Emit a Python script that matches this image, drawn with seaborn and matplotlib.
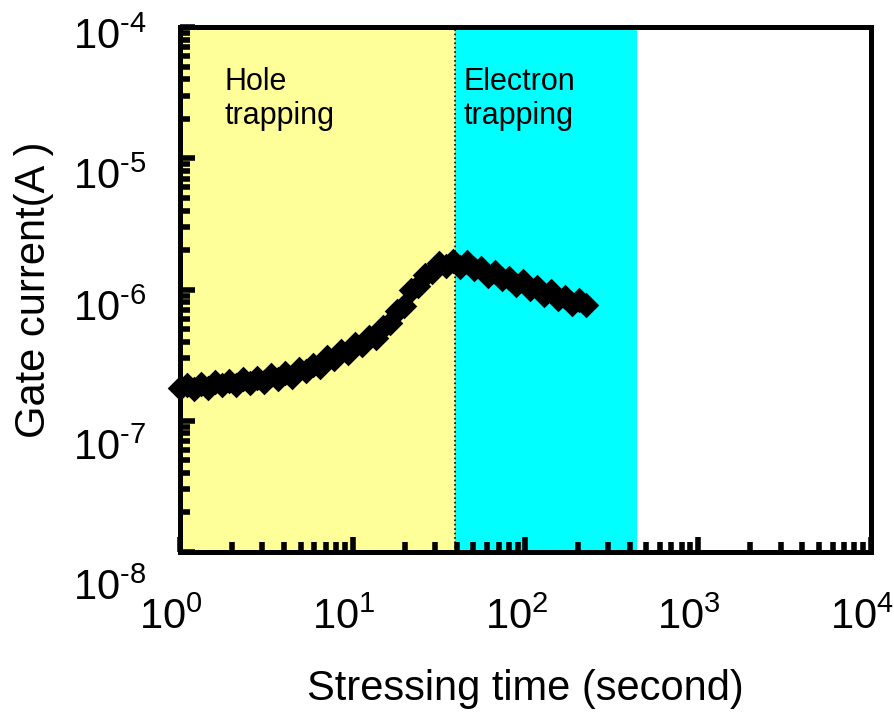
import matplotlib
matplotlib.use("Agg")
import matplotlib.pyplot as plt
from matplotlib.transforms import ScaledTranslation
from matplotlib.ticker import FuncFormatter
import seaborn as sns
import pandas as pd
import numpy as np

# gate current vs stressing time (log axes)
time_s = [1.00, 1.098, 1.205, 1.323, 1.453, 1.595, 1.751, 1.922, 2.110, 2.317,
          2.544, 2.792, 3.065, 3.365, 3.694, 4.055, 4.452, 4.884, 5.362, 5.886,
          6.462, 7.096, 7.790, 8.552, 9.389, 10.31, 11.31, 12.42, 13.63, 14.97,
          16.43, 18.04, 19.80, 21.74, 23.86, 26.20, 28.75, 31.56, 34.65, 38.04,
          41.76, 45.84, 50.33, 55.25, 60.65, 66.58, 73.09, 80.24, 88.09, 96.71,
          106.2, 116.5, 127.9, 140.5, 154.2, 169.3, 185.8, 204.0, 224.0]
gate_current = [1.78e-7, 1.89e-7, 1.76e-7, 1.91e-7, 1.77e-7, 1.99e-7, 1.88e-7, 2.01e-7, 1.86e-7, 2.09e-7,
                1.94e-7, 2.11e-7, 1.97e-7, 2.24e-7, 2.10e-7, 2.31e-7, 2.17e-7, 2.50e-7, 2.39e-7, 2.68e-7,
                2.57e-7, 3.04e-7, 2.97e-7, 3.40e-7, 3.30e-7, 3.88e-7, 3.78e-7, 4.35e-7, 4.25e-7, 5.22e-7,
                5.54e-7, 6.86e-7, 7.51e-7, 9.95e-7, 1.056e-6, 1.298e-6, 1.357e-6, 1.592e-6, 1.513e-6, 1.643e-6,
                1.491e-6, 1.631e-6, 1.437e-6, 1.455e-6, 1.276e-6, 1.361e-6, 1.198e-6, 1.236e-6, 1.088e-6, 1.157e-6,
                1.014e-6, 1.039e-6, 9.11e-7, 9.69e-7, 8.55e-7, 8.84e-7, 7.82e-7, 8.38e-7, 7.62e-7]

# shaded regimes
hole_region = (1, 39)
electron_region = (39, 442)
region_labels = ["Hole\ntrapping", "Electron\ntrapping"]

x_ticks = [1, 10, 100, 1e3, 1e4]
y_ticks = [1e-8, 1e-7, 1e-6, 1e-5, 1e-4]

df = pd.DataFrame({"time": time_s, "current": gate_current})

sns.set_style("white")
plt.rcParams["font.family"] = ["Liberation Sans", "DejaVu Sans"]
plt.rcParams["mathtext.fontset"] = "custom"
plt.rcParams["mathtext.rm"] = "Liberation Sans"
plt.rcParams["mathtext.it"] = "Liberation Sans:italic"
plt.rcParams["text.color"] = "black"
plt.rcParams["axes.labelcolor"] = "black"
plt.rcParams["xtick.color"] = "black"
plt.rcParams["ytick.color"] = "black"

fig = plt.figure(figsize=(8.94, 7.15), dpi=100)
ax = fig.add_axes([0.2013, 0.228, 0.773, 0.734])

ax.axvspan(*hole_region, color="#ffff99", zorder=0, lw=0)
ax.axvspan(*electron_region, color="#00ffff", zorder=0, lw=0)
ax.axvline(hole_region[1], color="black", ls=":", lw=1.2, zorder=1)

sns.scatterplot(data=df, x="time", y="current", marker="D", s=170,
                color="black", edgecolor="black", linewidth=0, ax=ax, zorder=3,
                clip_on=False)

ax.set_xscale("log")
ax.set_yscale("log")
ax.set_xlim(1, 1e4)
ax.set_ylim(1e-8, 1e-4)
ax.set_xticks(x_ticks)
ax.set_yticks(y_ticks)


def pow_label(v, pos):
    e = int(round(np.log10(v)))
    if e < 0:
        return r"$\mathregular{10^{\text{-}%d}}$" % (-e)
    return r"$\mathregular{10^{%d}}$" % e


ax.xaxis.set_major_formatter(FuncFormatter(pow_label))
ax.yaxis.set_major_formatter(FuncFormatter(pow_label))

ax.text(0.065, 0.925, region_labels[0], transform=ax.transAxes,
        fontsize=22, va="top", ha="left")
ax.text(0.41, 0.925, region_labels[1], transform=ax.transAxes,
        fontsize=22, va="top", ha="left")

for side in ["left", "right", "top", "bottom"]:
    ax.spines[side].set_linewidth(3.6)
    ax.spines[side].set_color("black")

ax.tick_params(which="both", direction="in", left=True, bottom=True,
               top=False, right=False)
ax.tick_params(which="major", length=10.5, width=4, labelsize=30, pad=24)
ax.tick_params(which="minor", length=7.5, width=4)
ax.tick_params(axis="x", which="major", pad=33)

ax.set_xlabel("Stressing time (second)", fontsize=30, labelpad=22)
ax.set_ylabel("Gate current(A )", fontsize=30, labelpad=14)

# the original labels sit a little off their ticks
for tick in ax.xaxis.get_major_ticks():
    lab = tick.label1
    lab.set_transform(lab.get_transform() + ScaledTranslation(-9 / 100, 0, fig.dpi_scale_trans))
y_shift = [32, 24, 16, 15, 6]
for tick, dy in zip(ax.yaxis.get_major_ticks(), y_shift):
    lab = tick.label1
    lab.set_transform(lab.get_transform() + ScaledTranslation(0, -dy / 100, fig.dpi_scale_trans))

fig.savefig("out.png", dpi=100)
